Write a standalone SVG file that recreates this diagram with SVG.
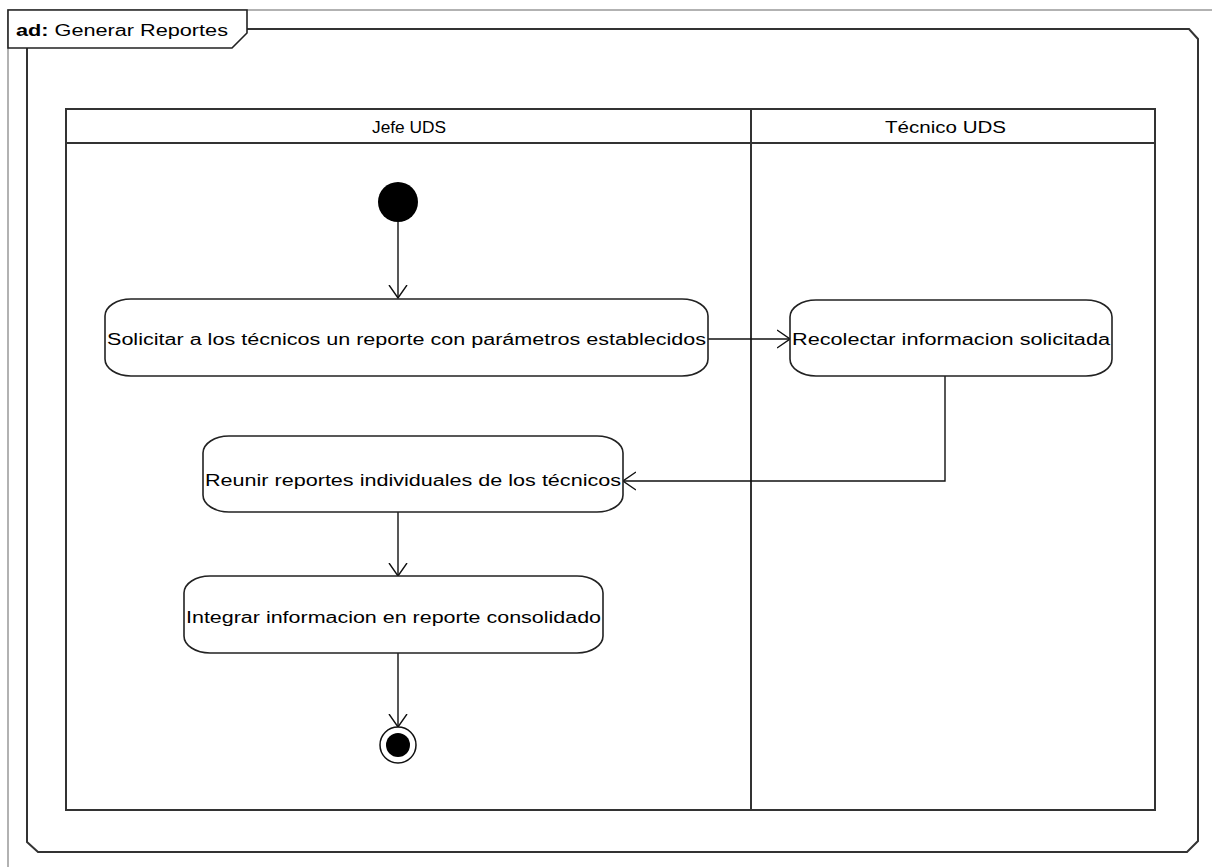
<svg xmlns="http://www.w3.org/2000/svg" width="1212" height="867" viewBox="0 0 1212 867">
<defs>
<style>
.txt{font-family:"Liberation Sans",Arial,sans-serif;font-size:16px;fill:#000}
.act{fill:#fff;stroke:#222;stroke-width:1.6}
.frame{fill:none;stroke:#333;stroke-width:2}
.edge{fill:none;stroke:#111;stroke-width:1.4}
</style>
<marker id="arr" viewBox="0 0 14 20" refX="13" refY="10" markerWidth="14" markerHeight="20" markerUnits="userSpaceOnUse" orient="auto">
<path d="M0,1 L13,10 L0,19" fill="none" stroke="#111" stroke-width="1.4"/>
</marker>
</defs>
<rect width="1212" height="867" fill="#fff"/>
<g id="frame">
<path d="M8,867 L8,10 L1212,10" fill="none" stroke="#999" stroke-width="1.5"/>
<path d="M27,48 L27,842 L38,852 L1187,852 L1198,841 L1198,39 L1189,29 L247,29" class="frame"/>
<path d="M8,10 L247,10 L247,33 L232,48 L8,48 Z" fill="#fff" stroke="#222" stroke-width="1.6"/>
<text x="16" y="36" class="txt" textLength="212" lengthAdjust="spacingAndGlyphs"><tspan font-weight="bold">ad:</tspan> Generar Reportes</text>
</g>
<g id="lanes">
<rect x="66" y="109" width="1089" height="701" fill="none" stroke="#333" stroke-width="2"/>
<line x1="66" y1="143" x2="1155" y2="143" stroke="#333" stroke-width="2"/>
<line x1="751" y1="109" x2="751" y2="810" stroke="#333" stroke-width="2"/>
<text x="372" y="133" class="txt" textLength="74" lengthAdjust="spacingAndGlyphs">Jefe UDS</text>
<text x="885" y="133" class="txt" textLength="121" lengthAdjust="spacingAndGlyphs">Técnico UDS</text>
</g>
<g id="connectors">
<path d="M398,222 L398,298" class="edge" marker-end="url(#arr)"/>
<path d="M708,339 L790,339" class="edge" marker-end="url(#arr)"/>
<path d="M945,376 L945,481 L623,481" class="edge" marker-end="url(#arr)"/>
<path d="M398,512 L398,576" class="edge" marker-end="url(#arr)"/>
<path d="M398,653 L398,727" class="edge" marker-end="url(#arr)"/>
</g>
<g id="start">
<circle cx="398" cy="202" r="20" fill="#000"/>
</g>
<g id="act1">
<rect x="105" y="299" width="603" height="77" rx="26" ry="17" class="act"/>
<text x="107" y="345" class="txt" textLength="599" lengthAdjust="spacingAndGlyphs">Solicitar a los técnicos un reporte con parámetros establecidos</text>
</g>
<g id="act2">
<rect x="790" y="300" width="322" height="76" rx="26" ry="17" class="act"/>
<text x="792" y="345" class="txt" textLength="318" lengthAdjust="spacingAndGlyphs">Recolectar informacion solicitada</text>
</g>
<g id="act3">
<rect x="203" y="436" width="420" height="76" rx="26" ry="17" class="act"/>
<text x="205" y="486" class="txt" textLength="416" lengthAdjust="spacingAndGlyphs">Reunir reportes individuales de los técnicos</text>
</g>
<g id="act4">
<rect x="184" y="576" width="419" height="77" rx="26" ry="17" class="act"/>
<text x="186" y="623" class="txt" textLength="415" lengthAdjust="spacingAndGlyphs">Integrar informacion en reporte consolidado</text>
</g>
<g id="end">
<circle cx="398" cy="745" r="18" fill="#fff" stroke="#111" stroke-width="1.5"/>
<circle cx="398" cy="745" r="12" fill="#000"/>
</g>
</svg>
